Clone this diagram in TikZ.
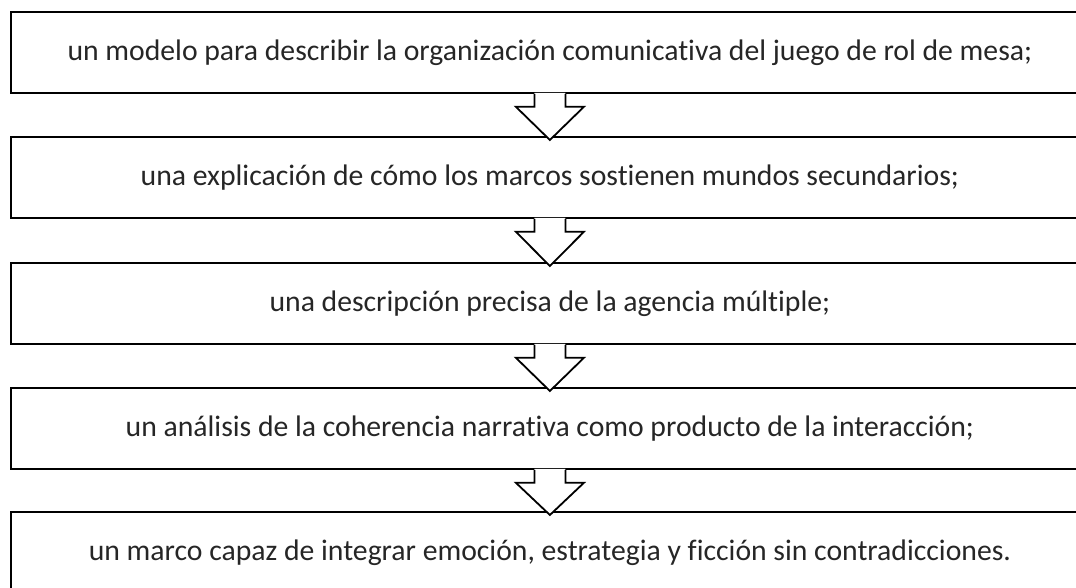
\documentclass[tikz,border=0pt]{standalone}
\usepackage{fontspec}
\setmainfont{Carlito}[Ligatures=NoCommon]
\usetikzlibrary{calc}
\tikzset{
  stagebox/.style={draw=black, line width=1.8pt, fill=white, minimum width=1078pt,
    minimum height=81pt, inner sep=0pt, anchor=north west,
    font=\fontsize{29.7}{34}\selectfont, text=black!85},
  blockarrow/.style={draw=black, line width=1.8pt, line join=miter},
}
\newcommand\flowarrow[2]{%
  \coordinate (s) at (#1.south);
  \coordinate (t) at ($(#2.north)+(0,4)$);
  \fill[white] ($(s)+(-15.5,-1)$) -- ($(s)+(-15.5,13)$) -- ($(s)+(-34,13)$) -- (t)
    -- ($(s)+(34,13)$) -- ($(s)+(15.5,13)$) -- ($(s)+(15.5,-1)$) -- cycle;
  \draw[blockarrow] ($(s)+(-15.5,0)$) -- ($(s)+(-15.5,13)$) -- ($(s)+(-34,13)$) -- (t)
    -- ($(s)+(34,13)$) -- ($(s)+(15.5,13)$) -- ($(s)+(15.5,0)$);
}
\begin{document}
\begin{tikzpicture}[x=1pt,y=-1pt]
\useasboundingbox (0,0) rectangle (1076,588);
\node[stagebox] (b1) at (10,11) {un modelo para describir la organización comunicativa del juego de rol de mesa;};
\node[stagebox] (b2) at (10,136) {una explicación de cómo los marcos sostienen mundos secundarios;};
\node[stagebox] (b3) at (10,262) {una descripción precisa de la agencia múltiple;};
\node[stagebox] (b4) at (10,387) {un análisis de la coherencia narrativa como producto de la interacción;};
\node[stagebox] (b5) at (10,511) {un marco capaz de integrar emoción, estrategia y ficción sin contradicciones.};
\flowarrow{b1}{b2}
\flowarrow{b2}{b3}
\flowarrow{b3}{b4}
\flowarrow{b4}{b5}
\end{tikzpicture}
\end{document}
